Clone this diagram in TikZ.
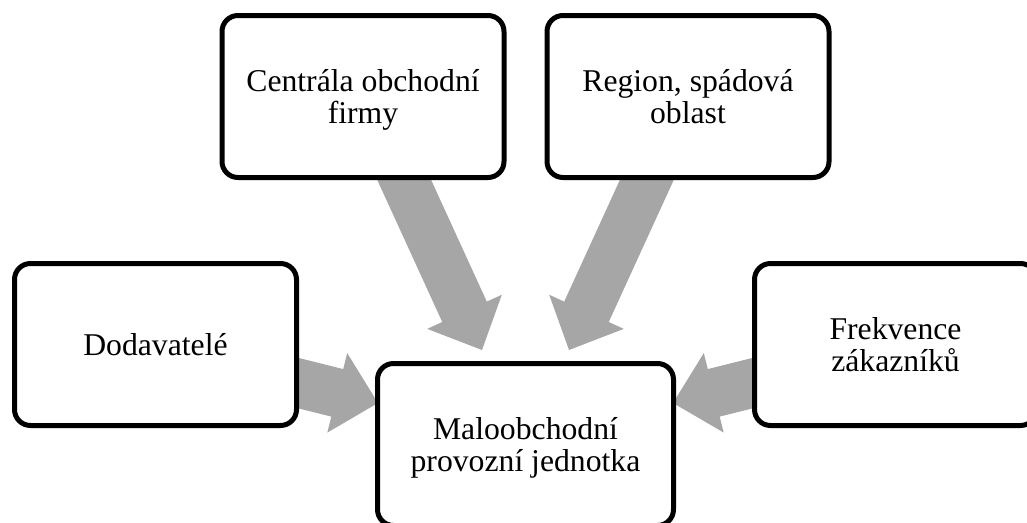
\documentclass[tikz,border=0pt]{standalone}
\usepackage{fontspec}
\setmainfont{Liberation Serif}
\usetikzlibrary{calc,backgrounds}
\definecolor{arrowgray}{HTML}{A6A6A6}
% line strut with the font's ascent and descent, so every line box is the same
\newcommand\linestrut{\rule[-6.9pt]{0pt}{35.1pt}}
\newcommand\boxfont{\fontsize{31.7}{32}\selectfont
  \lineskiplimit=-100pt\relax\lineskip=0pt\relax}
\tikzset{
  box/.style={draw=black, line width=5pt, rounded corners=16pt, fill=white,
    minimum width=282pt, minimum height=162pt, inner sep=0pt, align=center,
    font=\boxfont},
  % wide grey block arrow from the start point to the target point
  blockarrow/.style={fill=arrowgray, draw=none,
    to path={
      coordinate (ba-s) (\tikztotarget) coordinate (ba-t)
      ($(ba-t)!42pt!(ba-s)$) coordinate (ba-h)
      ($(ba-s)!24.5pt!90:(ba-t)$) -- ($(ba-h)!24.5pt!90:(ba-t)$)
      -- ($(ba-h)!41pt!90:(ba-t)$) -- (ba-t)
      -- ($(ba-h)!41pt!-90:(ba-t)$) -- ($(ba-h)!24.5pt!-90:(ba-t)$)
      -- ($(ba-s)!24.5pt!-90:(ba-t)$) -- cycle}}
}
\begin{document}
\begin{tikzpicture}[x=1pt,y=-1pt]
\useasboundingbox (0,0) rectangle (1027,522);
\clip (0,0) rectangle (1027,522);

% boxes
\node[box] (hq)     at (363,96.5)    {\linestrut Centrála obchodní\\\linestrut firmy};
\node[box] (region) at (688,96.5)    {\linestrut Region, spádová\\\linestrut oblast};
\node[box] (supp)   at (155.5,344.5) {\linestrut Dodavatelé};
\node[box] (freq)   at (895.5,344.5) {\linestrut Frekvence\\\linestrut zákazníků};
\node[box, minimum width=296pt] (store) at (525.5,444.5)
  {\linestrut Maloobchodní\\\linestrut provozní jednotka};

% arrow ends
\coordinate (hq-out)     at ($(hq.center)+(27.5,53.5)$);
\coordinate (region-out) at ($(region.center)+(-27.5,53.5)$);
\coordinate (supp-out)   at ($(supp.center)+(124.5,34)$);
\coordinate (freq-out)   at ($(freq.center)+(-124.5,34)$);
\coordinate (store-in1)  at ($(store.center)+(-43.5,-94.5)$);
\coordinate (store-in2)  at ($(store.center)+(43.5,-94.5)$);
\coordinate (store-in3)  at ($(store.center)+(-147.5,-41.5)$);
\coordinate (store-in4)  at ($(store.center)+(147.5,-41.5)$);

\begin{scope}[on background layer]
  \path[blockarrow] (hq-out) to (store-in1);
  \path[blockarrow] (region-out) to (store-in2);
  \path[blockarrow] (supp-out) to (store-in3);
  \path[blockarrow] (freq-out) to (store-in4);
\end{scope}
\end{tikzpicture}
\end{document}
